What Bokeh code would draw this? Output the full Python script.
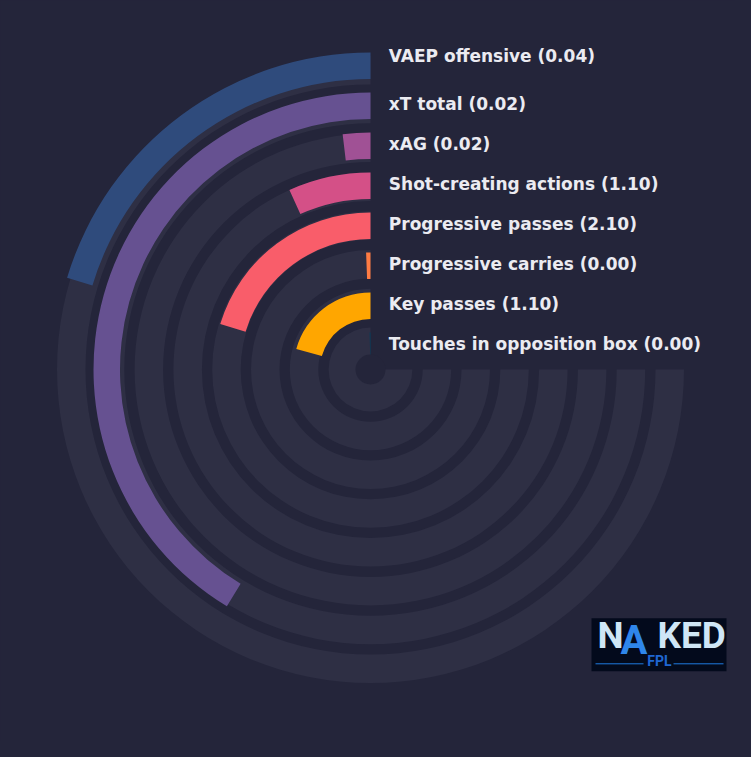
import numpy as np
from bokeh.plotting import figure
from bokeh.models import ColumnDataSource, Range1d
from bokeh.core.properties import value
from bokeh.embed import file_html
from bokeh.resources import INLINE

# ---------------- data ----------------
metrics = ["VAEP offensive", "xT total", "xAG", "Shot-creating actions",
           "Progressive passes", "Progressive carries", "Key passes",
           "Touches in opposition box"]
metric_values = [0.04, 0.02, 0.02, 1.10, 2.10, 0.00, 1.10, 0.00]
# share of the 270-degree track filled by each bar (percent, read from arc length)
fill_pct = [27.1, 55.1, 2.5, 9.0, 27.1, 0.8, 27.6, 0.5]
bar_colors = ["#2f4b7c", "#665191", "#a05195", "#d45087",
              "#f95d6a", "#ff7c43", "#ffa600", "#003f5c"]

# ---------------- style ----------------
BG = "#24253a"
TRACK = "#2e2f44"
TEXT = "#ebebf1"
W, H = 735, 741
CX, CY = 370, 369          # centre of the rings in page pixels
SWEEP = 1.5 * np.pi        # 270 degrees
START = np.pi / 2          # 12 o'clock

n = len(metrics)
k = np.arange(n)
track_outer = 313.5 - 38.8 * k
track_inner = track_outer - 28.5
bar_outer = 317.0 - 40.0 * k
bar_inner = bar_outer - 26.5
label_drop = np.array([3.2] + [11.5] * (n - 1))

p = figure(width=W, height=H, output_backend="svg", toolbar_location=None,
           x_range=Range1d(-CX, W - CX),
           y_range=Range1d(CY - H, CY),
           min_border=0, background_fill_color=BG, border_fill_color=BG)
p.axis.visible = False
p.grid.visible = False
p.outline_line_color = None

try:
    from bokeh.models import GlobalInlineStyleSheet
    p.stylesheets = [GlobalInlineStyleSheet(css=f"body{{background:{BG};}}")]
except Exception:
    pass

tracks = ColumnDataSource(dict(inner=track_inner, outer=track_outer))
p.annular_wedge(x=0, y=0, inner_radius="inner", outer_radius="outer",
                start_angle=START, end_angle=2 * np.pi, direction="anticlock",
                fill_color=TRACK, line_color=None, source=tracks)

ends = START + np.array(fill_pct) / 100.0 * SWEEP
bars = ColumnDataSource(dict(inner=bar_inner, outer=bar_outer, end=ends,
                             color=bar_colors))
p.annular_wedge(x=0, y=0, inner_radius="inner", outer_radius="outer",
                start_angle=START, end_angle="end", direction="anticlock",
                fill_color="color", line_color=None, source=bars)

p.circle(x=[0], y=[0], radius=15, fill_color=BG, line_color=None)

labels = [f"{m} ({v:.2f})" for m, v in zip(metrics, metric_values)]
lab = ColumnDataSource(dict(x=[18.3] * n, y=bar_outer - label_drop, text=labels))
p.text(x="x", y="y", text="text", source=lab, text_color=TEXT,
       text_font=value("DejaVu Sans"), text_font_style="bold",
       text_font_size="17px", text_baseline="alphabetic", text_align="left")

# ---------------- logo ----------------
def px(x):
    return x - CX

def py(y):
    return CY - y

p.quad(left=[px(591)], right=[px(726)], top=[py(617.7)], bottom=[py(670.7)],
       fill_color="#030a1c", line_color=None)
p.segment(x0=[px(595), px(673)], y0=[py(663.3)] * 2,
          x1=[px(643), px(723)], y1=[py(663.3)] * 2,
          line_color="#1f7ae0", line_width=1)
p.text(x=[px(597)], y=[py(635)], text=["N"], text_color="#cfe6f6",
       text_font=value("Roboto"), text_font_style="bold", text_font_size="37px",
       text_baseline="alphabetic")
p.text(x=[px(620)], y=[py(640)], text=["A"], text_color="#2f86ea",
       text_font=value("Roboto"), text_font_style="bold", text_font_size="40px",
       text_baseline="alphabetic")
p.text(x=[px(657)], y=[py(635)], text=["KED"], text_color="#cfe6f6",
       text_font=value("Roboto"), text_font_style="bold", text_font_size="37px",
       text_baseline="alphabetic")
p.text(x=[px(659)], y=[py(660)], text=["FPL"], text_color="#1f66d1",
       text_font=value("Roboto"), text_font_style="bold", text_font_size="14px",
       text_baseline="alphabetic", text_align="center")

open("out.html", "w").write(file_html(p, INLINE))
